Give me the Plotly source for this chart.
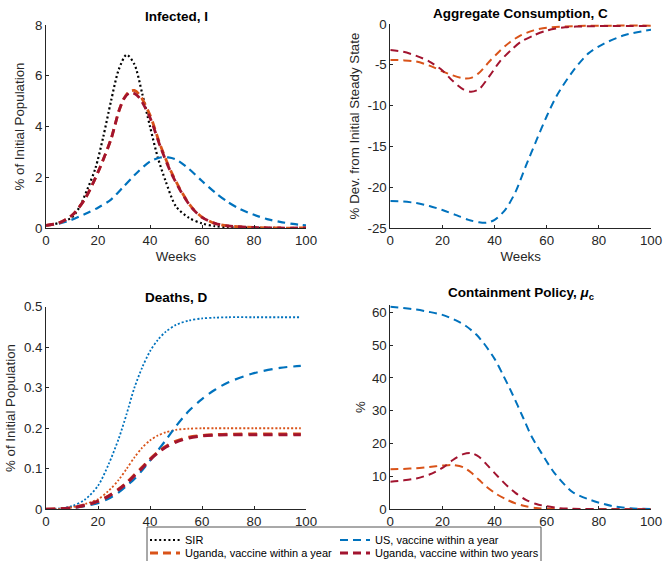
import plotly.graph_objects as go

# ---------------- data ----------------
# Infected, I (% of initial population)
inf_sir_wk = [0, 5, 10, 13, 16, 19, 22, 25, 28, 31, 34, 37, 40, 43, 46, 50, 55, 60, 65, 70, 80, 90, 100]
inf_sir = [0.1, 0.2, 0.42, 0.85, 1.55, 2.35, 3.58, 5.0, 6.25, 6.83, 6.45, 5.3, 4.0, 2.78, 1.85, 0.85, 0.4, 0.18, 0.07, 0.03, 0.01, 0.0, 0.0]

inf_wk = [0, 5, 10, 15, 20, 25, 28, 30, 32, 34, 36, 40, 44, 48, 52, 56, 60, 65, 70, 80, 90, 100]
inf_uga1 = [0.1, 0.2, 0.5, 1.15, 2.2, 3.5, 4.6, 5.1, 5.38, 5.42, 5.25, 4.45, 3.25, 2.25, 1.45, 0.82, 0.43, 0.18, 0.08, 0.02, 0.0, 0.0]
inf_uga2 = [0.1, 0.2, 0.5, 1.15, 2.2, 3.5, 4.6, 5.1, 5.32, 5.3, 5.12, 4.35, 3.2, 2.2, 1.42, 0.8, 0.42, 0.18, 0.08, 0.02, 0.0, 0.0]

inf_us_wk = [0, 5, 10, 15, 20, 25, 30, 35, 40, 44, 47, 50, 55, 60, 65, 70, 75, 80, 85, 90, 95, 100]
inf_us = [0.1, 0.17, 0.33, 0.55, 0.8, 1.12, 1.65, 2.18, 2.62, 2.78, 2.78, 2.7, 2.33, 1.85, 1.4, 1.02, 0.73, 0.52, 0.35, 0.24, 0.16, 0.1]

# Aggregate consumption, C (% deviation from initial steady state)
con_wk = [0, 5, 10, 15, 20, 24, 28, 31, 34, 38, 42, 46, 50, 55, 60, 67, 75, 85, 100]
con_uga1 = [-4.4, -4.45, -4.6, -5.1, -5.8, -6.3, -6.65, -6.6, -6.0, -4.6, -3.3, -2.2, -1.4, -0.78, -0.45, -0.3, -0.22, -0.2, -0.2]
con_uga2 = [-3.2, -3.4, -3.9, -4.6, -5.7, -7.0, -8.0, -8.3, -8.0, -6.4, -4.6, -3.3, -2.2, -1.4, -0.8, -0.4, -0.28, -0.25, -0.25]

con_us_wk = [0, 5, 10, 15, 20, 25, 30, 34, 37, 40, 44, 48, 52, 56, 60, 64, 70, 76, 82, 90, 100]
con_us = [-21.7, -21.75, -21.95, -22.3, -22.8, -23.4, -24.0, -24.3, -24.35, -24.0, -22.8, -20.6, -17.4, -14.3, -11.3, -8.7, -5.8, -3.6, -2.4, -1.35, -0.7]

# Deaths, D (% of initial population)
dth_wk = [0, 5, 10, 15, 20, 24, 28, 31, 34, 37, 40, 43, 46, 50, 55, 60, 65, 70, 80, 90, 98]
dth_us_sir = [0.0, 0.002, 0.008, 0.024, 0.058, 0.11, 0.175, 0.235, 0.3, 0.35, 0.39, 0.418, 0.438, 0.455, 0.466, 0.471, 0.473, 0.474, 0.474, 0.474, 0.474]
dth_uga_sir = [0.0, 0.001, 0.005, 0.013, 0.025, 0.045, 0.073, 0.1, 0.128, 0.152, 0.17, 0.182, 0.19, 0.196, 0.199, 0.2, 0.2, 0.2, 0.2, 0.2, 0.2]
dth_uga1 = [0.0, 0.001, 0.004, 0.01, 0.02, 0.033, 0.05, 0.066, 0.085, 0.104, 0.124, 0.141, 0.155, 0.168, 0.178, 0.182, 0.184, 0.185, 0.186, 0.186, 0.186]
dth_uga2 = [0.0, 0.001, 0.004, 0.01, 0.02, 0.032, 0.049, 0.064, 0.083, 0.102, 0.122, 0.139, 0.153, 0.166, 0.176, 0.181, 0.183, 0.184, 0.184, 0.184, 0.184]
dth_us = [0.0, 0.001, 0.003, 0.008, 0.015, 0.026, 0.042, 0.058, 0.075, 0.096, 0.12, 0.145, 0.17, 0.205, 0.243, 0.272, 0.295, 0.313, 0.336, 0.349, 0.354]

# Containment policy, mu_c (%)
pol_wk = [0, 5, 10, 15, 20, 24, 28, 31, 34, 37, 41, 45, 48, 52, 56, 60, 65, 70, 80, 90, 100]
pol_uga1 = [12.2, 12.3, 12.5, 12.9, 13.3, 13.5, 12.8, 11.2, 9.0, 6.8, 4.5, 2.8, 1.8, 0.9, 0.4, 0.15, 0.05, 0.0, 0.0, 0.0, 0.0]
pol_uga2 = [8.4, 8.8, 9.4, 10.6, 12.6, 15.0, 16.8, 17.1, 16.0, 13.6, 10.2, 7.0, 5.0, 2.9, 1.6, 0.9, 0.35, 0.15, 0.05, 0.0, 0.0]

pol_us_wk = [0, 5, 10, 15, 20, 25, 29, 33, 36, 40, 43, 47, 51, 54, 58, 63, 70, 77, 85, 92, 100]
pol_us = [61.7, 61.3, 60.8, 60.1, 59.2, 57.6, 55.8, 53.2, 50.4, 45.8, 41.3, 34.8, 27.8, 22.5, 17.1, 11.0, 5.2, 2.8, 1.0, 0.3, 0.1]

# tick positions
week_ticks = [0, 20, 40, 60, 80, 100]
inf_ticks = [0, 2, 4, 6, 8]
con_ticks = [-25, -20, -15, -10, -5, 0]
dth_ticks = [0, 0.1, 0.2, 0.3, 0.4, 0.5]
pol_ticks = [0, 10, 20, 30, 40, 50, 60]

# ---------------- styling ----------------
BLUE = "#0072BD"
ORANGE = "#D95319"
RED = "#A2142F"
BLACK = "#000000"
AX = "#262626"
FONT = "Liberation Sans, Arial, Helvetica, sans-serif"

DASH = "8px,5px"
DOT = "2px,2.6px"

fig = go.Figure()


def add(x, y, ax, color, dash, width, name=None, legend=None):
    fig.add_trace(go.Scatter(
        x=x, y=y, mode="lines",
        line=dict(color=color, dash=dash, width=width, shape="spline", smoothing=0.8),
        xaxis="x" + ax, yaxis="y" + ax,
        name=name or "", showlegend=legend is not None,
        legend=legend if legend else "legend",
        hoverinfo="skip",
    ))


# Infected
add(inf_sir_wk, inf_sir, "", BLACK, DOT, 2.2, "SIR", "legend")
add(inf_us_wk, inf_us, "", BLUE, DASH, 2.2, "US, vaccine within a year", "legend3")
add(inf_wk, inf_uga1, "", ORANGE, DASH, 2.8, "Uganda, vaccine within a year", "legend2")
add(inf_wk, inf_uga2, "", RED, DASH, 2.8, "Uganda, vaccine within two years", "legend4")

# Consumption
add(con_us_wk, con_us, "2", BLUE, DASH, 2)
add(con_wk, con_uga1, "2", ORANGE, DASH, 2)
add(con_wk, con_uga2, "2", RED, DASH, 2)

# Deaths
add(dth_wk, dth_us_sir, "3", BLUE, "2px,2px", 1.8)
add(dth_wk, dth_uga_sir, "3", ORANGE, "2px,2px", 1.8)
add(dth_wk, dth_us, "3", BLUE, "9px,6px", 2.2)
add(dth_wk, dth_uga1, "3", ORANGE, "9px,6px", 3)
add(dth_wk, dth_uga2, "3", RED, "9px,6px", 3)

# Containment
add(pol_us_wk, pol_us, "4", BLUE, DASH, 2)
add(pol_wk, pol_uga1, "4", ORANGE, DASH, 2)
add(pol_wk, pol_uga2, "4", RED, DASH, 2)

W, H = 664, 561


def px_x(v):
    return v / W


def px_y(v):
    return 1 - v / H


def labels(vals):
    # plain hyphen-minus for negative numbers
    return [("%g" % v).replace("\u2212", "-") for v in vals]


def xax(domain, title=None):
    d = dict(domain=domain, range=[0, 100], tickvals=week_ticks, ticktext=labels(week_ticks),
             showline=True, linecolor=AX, linewidth=0.8, ticks="inside", ticklen=3,
             tickcolor=AX, tickfont=dict(size=13.3, color=AX, family=FONT),
             showgrid=False, zeroline=False, mirror=False, fixedrange=True)
    if title:
        d["title"] = dict(text=title, font=dict(size=13.3, color=AX, family=FONT), standoff=4)
    return d


def yax(domain, rng, ticks, title, anchor, standoff):
    return dict(domain=domain, range=rng, tickvals=ticks, ticktext=labels(ticks), anchor=anchor,
                showline=True, linecolor=AX, linewidth=0.8, ticks="inside", ticklen=3,
                tickcolor=AX, tickfont=dict(size=13.3, color=AX, family=FONT),
                showgrid=False, zeroline=False, fixedrange=True,
                title=dict(text=title, font=dict(size=13.3, color=AX, family=FONT), standoff=standoff))


xl = [px_x(46), px_x(306)]
xr = [px_x(390.3), px_x(651)]
yt = [px_y(228), px_y(25)]
yt2 = [px_y(228), px_y(24)]
yb = [px_y(509.3), px_y(306.7)]
yb2 = [px_y(509.3), px_y(305)]

legend_common = dict(bgcolor="rgba(0,0,0,0)", borderwidth=0, xanchor="left", yanchor="top",
                     font=dict(size=11, color="#000000", family=FONT), tracegroupgap=0,
                     itemclick=False, itemdoubleclick=False)

fig.update_layout(
    width=W, height=H,
    margin=dict(l=0, r=0, t=0, b=0, autoexpand=False),
    paper_bgcolor="white", plot_bgcolor="white",
    font=dict(family=FONT, color=AX),
    xaxis=dict(xax(xl, "Weeks"), anchor="y"),
    yaxis=yax(yt, [0, 8], inf_ticks, "% of Initial Population", "x", 7),
    xaxis2=dict(xax(xr, "Weeks"), anchor="y2"),
    yaxis2=yax(yt2, [-25, 0], con_ticks, "% Dev. from Initial Steady State", "x2", 4),
    xaxis3=dict(xax(xl), anchor="y3"),
    yaxis3=yax(yb, [0, 0.5], dth_ticks, "% of Initial Population", "x3", 5),
    xaxis4=dict(xax(xr), anchor="y4"),
    yaxis4=yax(yb2, [0, 62.2], pol_ticks, "%", "x4", 3),
    legend=dict(legend_common, x=px_x(145), y=px_y(525.5)),
    legend2=dict(legend_common, x=px_x(145), y=px_y(538.5)),
    legend3=dict(legend_common, x=px_x(335), y=px_y(525.5)),
    legend4=dict(legend_common, x=px_x(335), y=px_y(538.5)),
    showlegend=True,
)

# panel titles
titles = [
    ("<b>Infected, I</b>", 176, 16),
    ("<b>Aggregate Consumption, C</b>", 520.5, 14),
    ("<b>Deaths, D</b>", 176, 297),
    ("<b>Containment Policy, <i>μ</i><sub>c</sub></b>", 520.5, 293),
]
for text, cx, cy in titles:
    fig.add_annotation(text=text, x=px_x(cx), y=px_y(cy), xref="paper", yref="paper",
                       xanchor="center", yanchor="middle", showarrow=False,
                       font=dict(size=13.5, color="#000000", family=FONT))

# legend frame spanning both legend columns
fig.add_shape(type="rect", xref="paper", yref="paper",
              x0=px_x(147), x1=px_x(541), y0=px_y(562), y1=px_y(527),
              line=dict(color=AX, width=0.8), fillcolor="white", layer="below")

fig.write_html("out.html")
